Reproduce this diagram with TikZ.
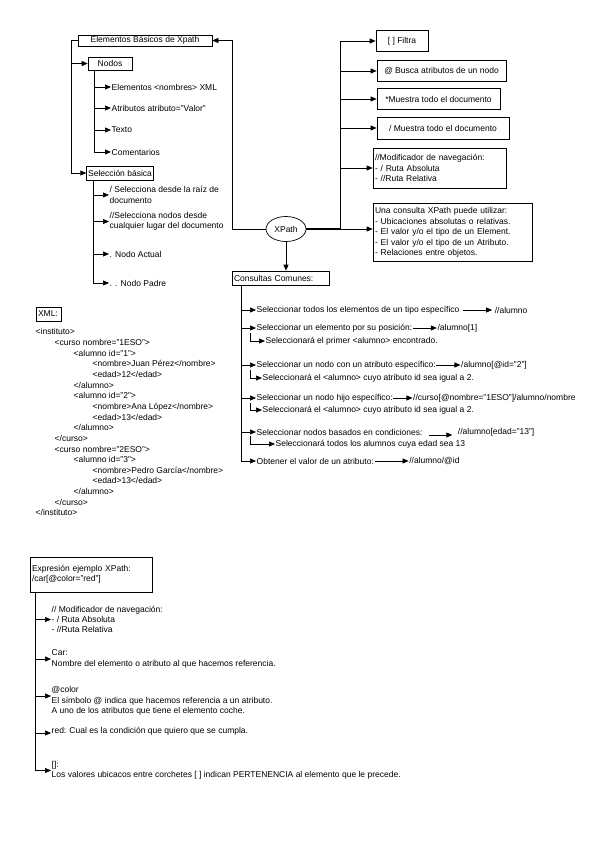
\documentclass[tikz,border=0pt]{standalone}
\usepackage{fontspec}
\setmainfont{Liberation Sans}
\usetikzlibrary{arrows.meta,calc,positioning,shapes.geometric}
\newcommand{\chico}{\fontsize{8.5pt}{10.4pt}\selectfont}
\tikzset{>={Triangle[length=6pt,width=5pt]}}
\tikzset{
    caja/.style={rectangle,draw,line width=0.7pt,inner sep=1.5pt,font=\chico},
    cajatexto/.style={caja,align=left,inner sep=2pt},
    texto/.style={anchor=west,inner sep=0.5pt,align=left,font=\chico},
    linea/.style={line width=0.7pt},
    flecha/.style={linea,->},
}

\begin{document}
\begin{tikzpicture}[x=1pt,y=-1pt]
        \useasboundingbox (0,0) rectangle (600,848);
        % elementos basicos
        \node[caja,minimum width=134,minimum height=11] (basicos) at (145,40.5) {Elementos Básicos de Xpath};
        \node[caja,minimum width=44,minimum height=13] (nodos) at (110,63.5) {Nodos};
        \node[texto] (elem) at (111,87) {Elementos <nombres> XML};
        \node[texto] (atrib) at (111,108) {Atributos atributo="Valor"};
        \node[texto] (txt) at (111,130) {Texto};
        \node[texto] (coment) at (111,152) {Comentarios};
        \node[caja,minimum width=66,minimum height=14] (seleccion) at (120,173) {Selección básica};
        \node[texto] (s1) at (109,195) {/ Selecciona desde la raíz de\\documento};
        \node[texto] (s2) at (109,221.5) {//Selecciona nodos desde\\cualquier lugar del documento};
        \node[texto] (s3) at (109,254) {. Nodo Actual};
        \node[texto] (s4) at (109,283) {. . Nodo Padre};

        \draw[flecha] (basicos.west) -- ++(-6,0) |- (nodos.west);
        \draw[flecha] (basicos.west) -- ++(-6,0) |- (seleccion.west);
        \draw[flecha] ($(nodos.south west)+(7,0)$) |- (elem.west);
        \draw[flecha] ($(nodos.south west)+(7,0)$) |- (atrib.west);
        \draw[flecha] ($(nodos.south west)+(7,0)$) |- (txt.west);
        \draw[flecha] ($(nodos.south west)+(7,0)$) |- (coment.west);
        \draw[flecha] ($(seleccion.south west)+(7,0)$) |- (s1.west);
        \draw[flecha] ($(seleccion.south west)+(7,0)$) |- (s2.west);
        \draw[flecha] ($(seleccion.south west)+(7,0)$) |- (s3.west);
        \draw[flecha] ($(seleccion.south west)+(7,0)$) |- (s4.west);

        % xpath y operadores
        \node[ellipse,draw,line width=0.7pt,minimum width=40,minimum height=25,inner sep=0pt,font=\chico] (xpath) at (286,229) {XPath};
        \node[caja,minimum width=52,minimum height=21] (filtra) at (402,41) {[ ] Filtra};
        \node[caja,minimum width=129,minimum height=21] (busca) at (441.5,71) {@ Busca atributos de un nodo};
        \node[caja,minimum width=123,minimum height=21] (todo) at (438.5,99) {*Muestra todo el documento};
        \node[caja,minimum width=132,minimum height=22] (raiz) at (443,128) {/ Muestra todo el documento};
        \node[cajatexto,text width=129,minimum height=40] (modif) at (439.5,168) {//Modificador de navegación:\\- / Ruta Absoluta\\- //Ruta Relativa};
        \node[cajatexto,text width=155,minimum height=58] (consulta) at (452.5,232.5) {Una consulta XPath puede utilizar:\\- Ubicaciones absolutas o relativas.\\- El valor y/o el tipo de un Element.\\- El valor y/o el tipo de un Atributo.\\- Relaciones entre objetos.};

        \draw[flecha] (xpath.west) -- ++(-33,0) |- (basicos.east);
        \coordinate (rj) at ($(xpath.east)+(34,0)$);
        \draw[line width=1.6pt] (xpath.east) -- (rj);
        \draw[flecha] (rj) -- (rj -| consulta.west);
        \draw[flecha] (rj) |- (filtra.west);
        \draw[flecha] (rj) |- (busca.west);
        \draw[flecha] (rj) |- (todo.west);
        \draw[flecha] (rj) |- (raiz.west);
        \draw[flecha] (rj) |- (modif.west);

        % consultas comunes
        \node[cajatexto,text width=94,minimum height=14,inner sep=1.5pt] (consultas) at (281,278) {Consultas Comunes:};
        \draw[flecha] (xpath.south) -- (xpath.south |- consultas.north);
        \node[texto] (q1) at (256,310) {Seleccionar todos los elementos de un tipo específico};
        \node[texto,right=34pt of q1] (q1r) {//alumno};
        \node[texto] (q2) at (256,328) {Seleccionar un elemento por su posición:};
        \node[texto,right=24pt of q2] (q2r) {/alumno[1]};
        \node[texto] (q3) at (265,341) {Seleccionará el primer <alumno> encontrado.};
        \node[texto] (q4) at (256,365) {Seleccionar un nodo con un atributo específico:};
        \node[texto,right=24pt of q4] (q4r) {/alumno[@id="2"]};
        \node[texto] (q5) at (262,378) {Seleccionará el <alumno> cuyo atributo id sea igual a 2.};
        \node[texto] (q6) at (256,398) {Seleccionar un nodo hijo específico:};
        \node[texto,right=19pt of q6] (q6r) {//curso[@nombre="1ESO"]/alumno/nombre};
        \node[texto] (q7) at (262,410) {Seleccionará el <alumno> cuyo atributo id sea igual a 2.};
        \node[texto] (q8) at (256,432) {Seleccionar nodos basados en condiciones:};
        \node[texto,right=34pt of q8] (q8r) {//alumno[edad="13"]};
        \node[texto] (q9) at (275,444) {Seleccionará todos los alumnos cuya edad sea 13};
        \node[texto] (q10) at (256,461) {Obtener el valor de un atributo:};
        \node[texto,right=34pt of q10] (q10r) {//alumno/@id};

        \coordinate (cspine) at ($(consultas.south west)+(9,0)$);
        \draw[flecha] (cspine) |- (q1.west);
        \draw[flecha] (cspine) |- (q2.west);
        \draw[flecha] (cspine) |- (q4.west);
        \draw[flecha] (cspine) |- (q6.west);
        \draw[flecha] (cspine) |- (q8.west);
        \draw[flecha] (cspine) |- (q10.west);
        \draw[flecha] ($(q2.south west)+(-6,0)$) |- (q3.west);
        \draw[flecha] ($(q4.south west)+(-6,0)$) |- (q5.west);
        \draw[flecha] ($(q6.south west)+(-6,0)$) |- (q7.west);
        \draw[flecha] ($(q8.south west)+(-6,0)$) |- (q9.west);
        \draw[flecha] ($(q1.east)+(3,0)$) -- ($(q1r.west)+(-2,0)$);
        \draw[flecha] (q2) -- (q2r);
        \draw[flecha] (q4) -- (q4r);
        \draw[flecha] (q6) -- (q6r);
        \draw[flecha] ($(q8.east)+(6,3)$) -- ($(q8r.west)+(-5,3)$);
        \draw[flecha] (q10) -- (q10r);

        % documento xml
        \node[cajatexto,text width=22,minimum height=14,inner sep=1.5pt] (xmltit) at (49,314) {XML:};
        \node[texto,anchor=north west,font=\fontsize{8.5pt}{10.65pt}\selectfont] (xml) at (35,328) {<instituto>\\
            \hspace*{19pt}<curso nombre="1ESO">\\
            \hspace*{38pt}<alumno id="1">\\
            \hspace*{57pt}<nombre>Juan Pérez</nombre>\\
            \hspace*{57pt}<edad>12</edad>\\
            \hspace*{38pt}</alumno>\\
            \hspace*{38pt}<alumno id="2">\\
            \hspace*{57pt}<nombre>Ana López</nombre>\\
            \hspace*{57pt}<edad>13</edad>\\
            \hspace*{38pt}</alumno>\\
            \hspace*{19pt}</curso>\\
            \hspace*{19pt}<curso nombre="2ESO">\\
            \hspace*{38pt}<alumno id="3">\\
            \hspace*{57pt}<nombre>Pedro García</nombre>\\
            \hspace*{57pt}<edad>13</edad>\\
            \hspace*{38pt}</alumno>\\
            \hspace*{19pt}</curso>\\
            </instituto>};

        % expresion de ejemplo
        \node[cajatexto,text width=118,minimum height=35] (expr) at (91,574.5) {Expresión ejemplo XPath:\\/car[@color="red"]};
        \node[texto] (b1) at (51,619.5) {// Modificador de navegación:\\- / Ruta Absoluta\\- //Ruta Relativa};
        \node[texto] (b2) at (51,659) {Car:\\Nombre del elemento o atributo al que hacemos referencia.};
        \node[texto] (b3) at (51,701) {@color\\El símbolo @ indica que hacemos referencia a un atributo.\\A uno de los atributos que tiene el elemento coche.};
        \node[texto] (b4) at (51,731) {red: Cual es la condición que quiero que se cumpla.};
        \node[texto] (b5) at (51,770.5) {[]:\\Los valores ubicacos entre corchetes [ ] indican PERTENENCIA al elemento que le precede.};

        \coordinate (bspine) at ($(expr.south west)+(6,0)$);
        \draw[flecha] (bspine) |- (b1.west);
        \draw[flecha] (bspine) |- (b2.west);
        \draw[flecha] (bspine) |- ($(b3.west)+(0,-5)$);
        \draw[flecha] (bspine) |- ($(b4.west)+(0,2)$);
        \draw[flecha] (bspine) |- (b5.west);
\end{tikzpicture}
\end{document}
